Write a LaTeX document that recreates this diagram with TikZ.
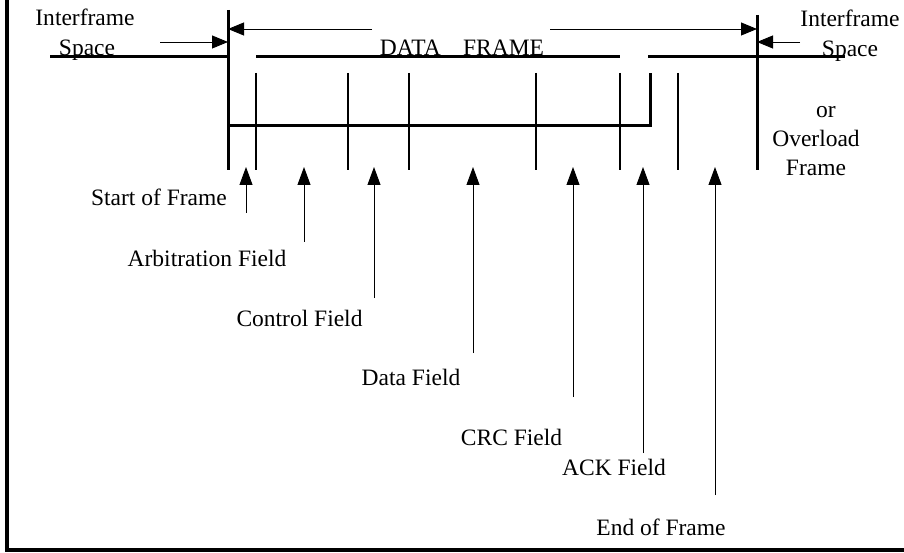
\documentclass[tikz,border=0pt]{standalone}
\usepackage{fontspec}
\setmainfont{Liberation Serif}
\usetikzlibrary{arrows.meta}
\begin{document}
\begin{tikzpicture}[x=1pt,y=-1pt,
  frameline/.style={line width=4pt},
  heavy/.style={line width=3pt},
  bar/.style={line width=2.6pt},
  slim/.style={line width=2pt},
  dimarrow/.style={line width=0.9pt,-{Triangle[length=16pt,width=13pt]}},
  uparrow/.style={line width=0.9pt,-{Triangle[length=18pt,width=13pt]}},
  lbl/.style={font=\fontsize{23.5}{28}\selectfont, inner sep=0pt, anchor=base},
]
\useasboundingbox (0,0) rectangle (904,553);
% outer frame (left and bottom only)
\draw[frameline] (6.5,0) -- (6.5,549.5) -- (904,549.5);

% coordinates
\coordinate (L0) at (50,57);
\coordinate (L1) at (228,57);
\coordinate (T1) at (256,57);
\coordinate (T2) at (620,57);
\coordinate (T3) at (648,57);
\coordinate (T4) at (845,57);
\coordinate (SL) at (228,10);
\coordinate (SLb) at (228,170);
\coordinate (SR) at (757,15);
\coordinate (SRb) at (757,170);
\coordinate (M0) at (228,126);
\coordinate (M1) at (650,126);
\coordinate (M1t) at (650,73);

% horizontal thick lines
\draw[heavy] (L0) -- (L1);
\draw[heavy] (T1) -- (T2);
\draw[heavy] (T3) -- (T4);
\draw[heavy] (M0) -- (M1) -- (M1t);

% frame boundary verticals
\draw[heavy] (SL) -- (SLb);
\draw[heavy] (SR) -- (SRb);

% field separators
\foreach \xx/\nm in {256/a,348/b,409/c,536/d,620/e,678/f}{
  \coordinate (V\nm t) at (\xx,73);
  \coordinate (V\nm b) at (\xx,170);
  \draw[bar] (V\nm t) -- (V\nm b);
}

% DATA FRAME dimension arrow
\coordinate (DA) at (228,29);
\coordinate (DAg) at (372,29);
\coordinate (DBg) at (550,29);
\coordinate (DB) at (757,29);
\draw[dimarrow] (DAg) -- (DA);
\draw[dimarrow] (DBg) -- (DB);

% interframe space arrows
\coordinate (IL) at (160,42);
\coordinate (ILe) at (228,42);
\coordinate (IR) at (800,42);
\coordinate (IRe) at (757,42);
\draw[dimarrow] (IL) -- (ILe);
\draw[dimarrow] (IR) -- (IRe);

% texts at top
\node[lbl] (ifl1) at (85,26) {Interframe};
\node[lbl] (ifl2) at (87,56) {Space};
\node[lbl] (ifr1) at (850,27) {Interframe};
\node[lbl] (ifr2) at (850,57) {Space};
\node[lbl] (ovor) at (826,118) {or};
\node[lbl] (ovl) at (816,147) {Overload};
\node[lbl] (ovf) at (816,176) {Frame};
\node[lbl] (dfr) at (462,56) {DATA\hspace{0.95em}FRAME};

% field labels
\node[lbl] (sof) at (159,206) {Start of Frame};
\node[lbl] (arb) at (207,266) {Arbitration Field};
\node[lbl] (ctl) at (299.5,326) {Control Field};
\node[lbl] (dat) at (411,385) {Data Field};
\node[lbl] (crc) at (511.5,445) {CRC Field};
\node[lbl] (ack) at (614,475) {ACK Field};
\node[lbl] (eof) at (661,535) {End of Frame};

% upward arrows
\foreach \xx/\yb/\nm in {246/213/sof,304/242/arb,374/298/ctl,473/353/dat,573/397/crc,643/453/ack,715/495/eof}{
  \coordinate (A\nm b) at (\xx,\yb);
  \coordinate (A\nm t) at (\xx,167);
  \draw[uparrow] (A\nm b) -- (A\nm t);
}
\end{tikzpicture}
\end{document}
